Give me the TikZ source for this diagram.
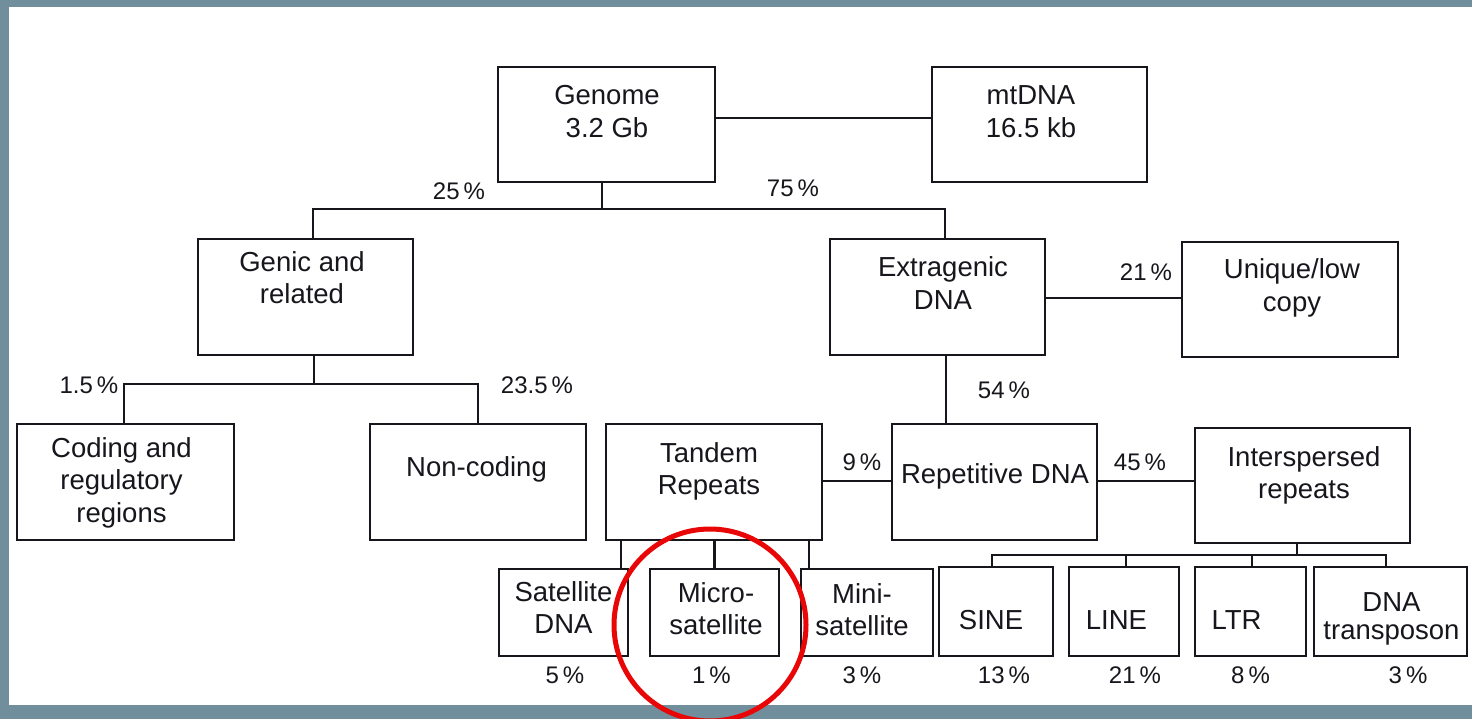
\documentclass[tikz,border=0pt]{standalone}
\usepackage{fontspec}
\setmainfont{Liberation Sans}
\usetikzlibrary{calc}
\definecolor{framegrey}{RGB}{112,142,155}
\definecolor{ink}{RGB}{22,22,28}
\definecolor{ringred}{RGB}{232,6,6}
\begin{document}
\begin{tikzpicture}[x=1pt,y=-1pt,
  box/.style={draw=ink, line width=2.8pt, inner sep=0pt},
  % multi-line labels are placed by the baseline of their last line
  lbl/.style={font=\fontsize{27.5}{32.5}\selectfont, text=ink, align=center, anchor=base, inner sep=0pt},
  tightlbl/.style={lbl, font=\fontsize{27.5}{28}\selectfont},
  pct/.style={font=\fontsize{24}{28}\selectfont, text=ink, anchor=base, inner sep=0pt},
  link/.style={draw=ink, line width=2.7pt}]

% frame and white sheet
\fill[framegrey] (0,0) rectangle (1472,719);
\fill[white] (9,7) rectangle (1472,705);
\useasboundingbox (0,0) rectangle (1472,719);

% boxes
\node[box, minimum width=217pt, minimum height=115pt] (genome) at (606.5,124.5) {};
\node[box, minimum width=215pt, minimum height=115pt] (mtdna)  at (1039.5,124.5) {};
\node[box, minimum width=215pt, minimum height=116pt] (genic)  at (305.5,297) {};
\node[box, minimum width=215pt, minimum height=116pt] (extra)  at (937.5,297) {};
\node[box, minimum width=216pt, minimum height=115pt] (unique) at (1290,299.5) {};
\node[box, minimum width=217pt, minimum height=116pt] (coding) at (125.5,482) {};
\node[box, minimum width=216pt, minimum height=116pt] (noncod) at (478,482) {};
\node[box, minimum width=216pt, minimum height=116pt] (tandem) at (714,482) {};
\node[box, minimum width=205pt, minimum height=116pt] (repet)  at (994.5,482) {};
\node[box, minimum width=215pt, minimum height=115pt] (inter)  at (1302.5,485.5) {};
\node[box, minimum width=129pt, minimum height=87pt] (sat)   at (563.5,612.5) {};
\node[box, minimum width=129pt, minimum height=87pt] (micro) at (714.5,612.5) {};
\node[box, minimum width=132pt, minimum height=87pt] (mini)  at (867,612.5) {};
\node[box, minimum width=114pt, minimum height=89pt] (sine)  at (996,611.5) {};
\node[box, minimum width=110pt, minimum height=89pt] (line)  at (1124,611.5) {};
\node[box, minimum width=111pt, minimum height=89pt] (ltr)   at (1250.5,611.5) {};
\node[box, minimum width=153pt, minimum height=89pt] (dnat)  at (1390.5,611.5) {};

% connectors
\draw[link] ([yshift=6.5pt]genome.east) -- ([yshift=6.5pt]genome.east -| mtdna.west);
\coordinate (split1) at (602,209);
\draw[link] (genome.south -| split1) -- (split1);
\draw[link] ([xshift=7.5pt]genic.north) |- (split1) -| ([xshift=7.5pt]extra.north);
\coordinate (split2) at (314,384);
\draw[link] (genic.south -| split2) -- (split2);
\draw[link] ([xshift=-1.5pt]coding.north) |- (split2) -| (noncod.north);
\draw[link] ([yshift=-1pt]extra.east) -- ([yshift=-1pt]extra.east -| unique.west);
\draw[link] ([xshift=8.5pt]extra.south) -- ([xshift=8.5pt]extra.south |- repet.north);
\draw[link] ([yshift=1pt]repet.west) -- ([yshift=1pt]repet.west -| tandem.east);
\draw[link] ([yshift=1pt]repet.east) -- ([yshift=1pt]repet.east -| inter.west);
\draw[link] ([xshift=57.5pt]sat.north) -- ([xshift=57.5pt]sat.north |- tandem.south);
\draw[link] (micro.north) -- (micro.north |- tandem.south);
\draw[link] ([xshift=-58pt]mini.north) -- ([xshift=-58pt]mini.north |- tandem.south);
\coordinate (split3) at (1297,555);
\draw[link] (inter.south -| split3) -- (split3);
\draw[link] ([xshift=-4pt]sine.north) |- (split3) -| ([xshift=-4.5pt]dnat.north);
\draw[link] ([xshift=2pt]line.north) -- ([xshift=2pt]line.north |- split3);
\draw[link] ([xshift=1.5pt]ltr.north) -- ([xshift=1.5pt]ltr.north |- split3);

% box texts
\node[lbl] (tGenome) at (607,137.5) {Genome\\3.2 Gb};
\node[lbl] (tMt)     at (1031,137.5) {mtDNA\\16.5 kb};
\node[lbl] (tGenic)  at (302,304) {Genic and\\related};
\node[lbl] (tExtra)  at (943,309.5) {Extragenic\\DNA};
\node[lbl] (tUnique) at (1292,311.5) {Unique/low\\copy};
\node[lbl] (tCoding) at (121.5,522) {Coding and\\regulatory\\regions};
\node[lbl] (tNon)    at (476.5,476) {Non-coding};
\node[lbl] (tTandem) at (709,494.5) {Tandem\\Repeats};
\node[lbl] (tRep)    at (995,483) {Repetitive DNA};
\node[lbl] (tInter)  at (1304,498.5) {Interspersed\\repeats};
\node[lbl] (tSat)    at (563.5,633.5) {Satellite\\DNA};
\node[lbl] (tMicro)  at (716,634.5) {Micro-\\satellite};
\node[lbl] (tMini)   at (862,635.5) {Mini-\\satellite};
\node[lbl] (tSine)   at (991,629) {SINE};
\node[lbl] (tLine)   at (1116.5,629) {LINE};
\node[lbl] (tLtr)    at (1236.5,629) {LTR};
\node[tightlbl] (tDnat) at (1391.5,639) {DNA\\transposon};

% percentages
\node[pct] (p25)  at (459,200) {25\,\%};
\node[pct] (p75)  at (793,197) {75\,\%};
\node[pct] (p21u) at (1146,281) {21\,\%};
\node[pct] (p15)  at (89,393) {1.5\,\%};
\node[pct] (p235) at (537,393) {23.5\,\%};
\node[pct] (p54)  at (1004,398) {54\,\%};
\node[pct] (p9)   at (862,470) {9\,\%};
\node[pct] (p45)  at (1140,470) {45\,\%};
\node[pct] (p5)   at (565,683) {5\,\%};
\node[pct] (p1)   at (711.5,683) {1\,\%};
\node[pct] (p3a)  at (862,683) {3\,\%};
\node[pct] (p13)  at (1004,683) {13\,\%};
\node[pct] (p21)  at (1135,683) {21\,\%};
\node[pct] (p8)   at (1250.5,683) {8\,\%};
\node[pct] (p3b)  at (1408,683) {3\,\%};

% highlight ring
\draw[ringred, line width=5pt] (710,625) circle[radius=96];
\end{tikzpicture}
\end{document}
